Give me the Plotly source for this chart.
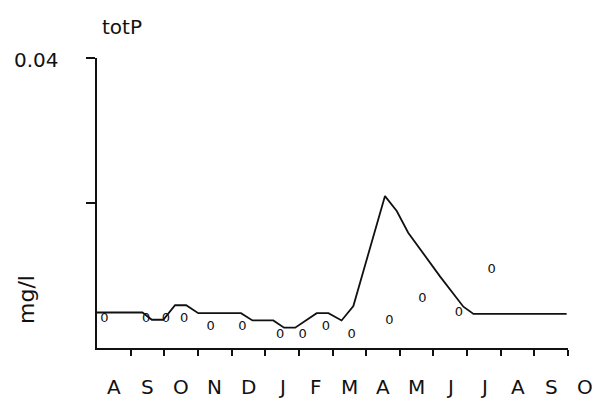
import plotly.graph_objects as go

# Months since 1 Aug (x), totP in mg/l (y)
line_months = [0, 1.35, 1.63, 1.97, 2.32, 2.65, 3.01, 4.28, 4.62, 5.24, 5.56, 5.89,
               6.53, 6.88, 7.27, 7.62, 8.56, 8.91, 9.25, 10.2, 10.89, 11.19, 13.96]
line_vals = [0.0049, 0.0049, 0.0039, 0.0039, 0.0059, 0.0059, 0.0048, 0.0048, 0.0038,
             0.0038, 0.0028, 0.0028, 0.0048, 0.0048, 0.0038, 0.0058, 0.02095, 0.0189,
             0.0159, 0.00985, 0.0057, 0.0047, 0.0047]

obs_months = [0.22, 1.46, 2.05, 2.59, 3.38, 4.32, 5.44, 6.11, 6.80, 7.57, 8.69, 9.67,
              10.76, 11.73]
obs_vals = [0.0040, 0.0040, 0.0040, 0.0040, 0.0029, 0.0029, 0.0018, 0.0018, 0.0029,
            0.0018, 0.0038, 0.0068, 0.0048, 0.0108]

# month initials, each centred in its month (month start index below)
month_labels = ["A", "S", "O", "N", "D", "J", "F", "M", "A", "M", "J", "J", "A", "S", "O"]
month_starts = list(range(len(month_labels)))
month_ticks = list(range(1, 15))

y_ticks = [0.02, 0.04]
y_label_text = "0.04"
title_text = "totP"
unit_text = "mg/l"

FONT = "DejaVu Sans"
INK = "#111111"

# The page body has an 8px margin, so the figure is drawn 8px in from the
# window corner.
OFF = 8
W, H = 602 - 2 * OFF, 400 - OFF
# plot area in window pixels: x 97..568, y 58..348
L, T = 97 - OFF, 58 - OFF
R = W - (568 - OFF)
B = H - (348 - OFF)
pw, ph = W - L - R, H - T - B
half_month_px = pw / 14 / 2


def px(x):  # window pixel x -> paper
    return (x - OFF - L) / pw


def py(y):  # window pixel y -> paper
    return (H - B - (y - OFF)) / ph


fig = go.Figure()
fig.add_trace(go.Scatter(x=line_months, y=line_vals, mode="lines",
                         line=dict(color=INK, width=1.8), hoverinfo="skip"))
fig.add_trace(go.Scatter(x=obs_months, y=obs_vals, mode="text", text=["0"] * len(obs_vals),
                         textposition="middle center",
                         textfont=dict(family=FONT, size=13, color=INK), hoverinfo="skip"))

annotations = []
for lab, pos in zip(month_labels, month_starts):
    annotations.append(dict(x=pos, y=py(387.5), xref="x", yref="paper", text=lab,
                            showarrow=False, xanchor="center", yanchor="middle",
                            xshift=half_month_px,
                            font=dict(family=FONT, size=20, color=INK)))
annotations.append(dict(x=px(36), y=py(60), xref="paper", yref="paper", text=y_label_text,
                        showarrow=False, xanchor="center", yanchor="middle",
                        font=dict(family=FONT, size=20, color=INK)))
annotations.append(dict(x=px(122), y=py(27), xref="paper", yref="paper", text=title_text,
                        showarrow=False, xanchor="center", yanchor="middle",
                        font=dict(family=FONT, size=20, color=INK)))
annotations.append(dict(x=px(26), y=py(300), xref="paper", yref="paper", text=unit_text,
                        showarrow=False, textangle=-90, xanchor="center", yanchor="middle",
                        font=dict(family=FONT, size=22, color=INK)))

fig.update_layout(
    width=W, height=H,
    margin=dict(l=L, r=R, t=T, b=B),
    paper_bgcolor="white", plot_bgcolor="white",
    showlegend=False,
    annotations=annotations,
    xaxis=dict(range=[0, 14], showgrid=False, zeroline=False, showline=True,
               linecolor=INK, linewidth=1.5, tickmode="array", tickvals=month_ticks,
               ticktext=[""] * len(month_ticks), ticks="outside", ticklen=6,
               tickwidth=1.5, tickcolor=INK),
    yaxis=dict(range=[0, 0.04], showgrid=False, zeroline=False, showline=True,
               linecolor=INK, linewidth=1.5, tickmode="array", tickvals=y_ticks,
               ticktext=["", ""], ticks="outside", ticklen=9, tickwidth=1.5,
               tickcolor=INK),
)

fig.write_html("out.html")
